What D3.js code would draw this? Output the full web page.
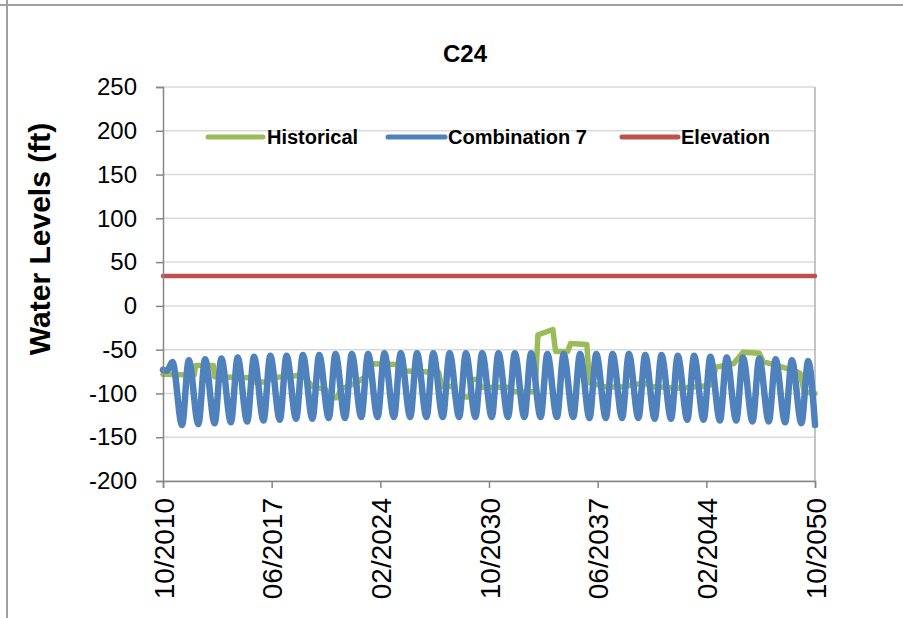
<!DOCTYPE html>
<html><head><meta charset="utf-8">
<script src="https://cdn.jsdelivr.net/npm/d3@7"></script>
<style>
body{margin:0;background:#fff;}
svg{display:block;font-family:"Liberation Sans",Arial,sans-serif;}
</style>
</head><body>
<svg id="c" width="903" height="618"></svg>
<script>
// ---------- data ----------
const chartTitle = "C24";
const yAxisTitle = "Water Levels (ft)";
const yTicks = [250, 200, 150, 100, 50, 0, -50, -100, -150, -200];
const xTickLabels = ["10/2010", "06/2017", "02/2024", "10/2030", "06/2037", "02/2044", "10/2050"];
const seriesNames = ["Historical", "Combination 7", "Elevation"];
const seriesColors = ["#9BBB59", "#4F81BD", "#C0504D"];

// Historical (vertices of the stepped line)
const histDates = ["2010-10","2012-09","2012-10","2013-11","2013-12","2016-03","2016-04","2017-03","2017-05",
  "2018-10","2019-05","2019-12","2020-10","2020-11","2021-06","2021-09","2022-08","2023-04","2023-08",
  "2025-03","2025-05","2027-09","2027-11","2028-08","2028-09","2029-08","2029-09","2030-02","2030-04",
  "2032-02","2032-03","2033-08","2033-10","2034-09","2034-11","2035-08","2035-10","2036-10","2036-12",
  "2037-10","2038-10","2040-04","2040-10","2042-04","2043-10","2044-06","2044-09","2045-10","2046-05",
  "2047-05","2047-08","2048-06","2048-10","2049-08","2049-11","2050-02","2050-10"];
const histValues = [-78,-79,-68,-68,-81,-82,-87,-87,-82,
  -80,-79,-92,-96,-105,-105,-95,-88,-80,-66,
  -67,-74,-76,-92,-92,-104,-104,-84,-84,-93,
  -93,-98,-98,-33,-27,-52,-52,-43,-44,-88,
  -92,-93,-88,-92,-94,-92,-90,-70,-66,-53,
  -54,-64,-68,-70,-75,-77,-98,-100];

// Combination 7 (seasonal cycle: start points, yearly May peaks, yearly December troughs, end point)
const combStartDates = ["2010-10", "2011-01"];
const combStartValues = [-73, -74];
const combPeakYears = d3.range(2011, 2051);
const combPeakValues = [-64,-62,-61,-60,-59,-58,-57,-57,-56,-56,
  -55,-55,-55,-54,-54,-54,-54,-54,-54,-54,
  -54,-54,-54,-55,-55,-55,-55,-55,-55,-56,
  -56,-57,-57,-58,-59,-59,-60,-61,-62,-63];
const combTroughYears = d3.range(2011, 2050);
const combTroughValues = [-136,-135,-134,-133,-132,-131,-130,-129,-129,-128,
  -128,-127,-127,-127,-127,-127,-127,-127,-127,-127,
  -127,-127,-127,-127,-127,-128,-128,-128,-128,-129,
  -129,-130,-130,-131,-131,-132,-132,-133,-134];
const combEndDate = "2050-10";
const combEndValue = -136;

// Elevation
const elevDates = ["2010-10", "2050-10"];
const elevValues = [34, 34];

// ---------- build ----------
const parseYM = d3.timeParse("%Y-%m");
const parseTick = d3.timeParse("%m/%Y");

const hist = histDates.map((d, i) => ({date: parseYM(d), value: histValues[i]}));
let comb = combStartDates.map((d, i) => ({date: parseYM(d), value: combStartValues[i]}));
combPeakYears.forEach((yr, i) => {
  comb.push({date: parseYM(yr + "-05"), value: combPeakValues[i]});
  if (i < combTroughYears.length) comb.push({date: parseYM(combTroughYears[i] + "-12"), value: combTroughValues[i]});
});
comb.push({date: parseYM(combEndDate), value: combEndValue});
const elev = elevDates.map((d, i) => ({date: parseYM(d), value: elevValues[i]}));

const L = 163, R = 815, T = 87, B = 481;
const svg = d3.select("#c");

const x = d3.scaleTime().domain([parseYM("2010-10"), parseYM("2050-10")]).range([L, R]);
const y = d3.scaleLinear().domain([-200, 250]).range([B, T]);

// outer frame remnants
svg.append("line").attr("x1", 0).attr("x2", 903).attr("y1", 5).attr("y2", 5)
  .attr("stroke", "#A0A0A0").attr("stroke-width", 2);
svg.append("line").attr("x1", 7).attr("x2", 7).attr("y1", 0).attr("y2", 618)
  .attr("stroke", "#A0A0A0").attr("stroke-width", 2);

// gridlines
svg.append("g").selectAll("line").data(yTicks).join("line")
  .attr("x1", L).attr("x2", R).attr("y1", d => y(d)).attr("y2", d => y(d))
  .attr("stroke", "#D9D9D9").attr("stroke-width", 1.5);
svg.append("line").attr("x1", R).attr("x2", R).attr("y1", T).attr("y2", B)
  .attr("stroke", "#B0B0B0").attr("stroke-width", 1.5);

// title
svg.append("text").attr("x", 465).attr("y", 62).attr("text-anchor", "middle")
  .attr("font-weight", "bold").attr("font-size", 24).text(chartTitle);

// y axis title
svg.append("text").attr("transform", "translate(39,239) rotate(-90)")
  .attr("text-anchor", "middle").attr("dy", "0.35em")
  .attr("font-weight", "bold").attr("font-size", 30).text(yAxisTitle);

// series lines
const line = d3.line().x(d => x(d.date)).y(d => y(d.value));
const smooth = d3.line().curve(d3.curveMonotoneX).x(d => x(d.date)).y(d => y(d.value));
const g = svg.append("g").attr("fill", "none").attr("stroke-linejoin", "round").attr("stroke-linecap", "round");
g.append("path").datum(hist).attr("d", line).attr("stroke", seriesColors[0]).attr("stroke-width", 5.5);
g.append("path").datum(comb).attr("d", smooth).attr("stroke", seriesColors[1]).attr("stroke-width", 6.5);
g.append("path").datum(elev).attr("d", line).attr("stroke", seriesColors[2]).attr("stroke-width", 4.5);

// y axis
const yAxis = svg.append("g").attr("transform", `translate(${L},0)`)
  .call(d3.axisLeft(y).tickValues(yTicks).tickSize(7).tickPadding(19).tickFormat(d3.format("d")));
yAxis.select(".domain").attr("stroke", "#868686").attr("stroke-width", 1.5);
yAxis.selectAll(".tick line").attr("stroke", "#868686").attr("stroke-width", 1.5);
yAxis.selectAll("text").attr("font-size", 24).attr("fill", "#000")
  .attr("font-family", '"Liberation Sans",Arial,sans-serif').text(d => d < 0 ? "-" + Math.abs(d) : d);

// x axis
const xTickDates = xTickLabels.map(parseTick);
const xAxis = svg.append("g").attr("transform", `translate(0,${B})`)
  .call(d3.axisBottom(x).tickValues(xTickDates).tickSize(7).tickFormat((d, i) => xTickLabels[i]));
xAxis.select(".domain").attr("stroke", "#868686").attr("stroke-width", 1.5);
xAxis.selectAll(".tick line").attr("stroke", "#868686").attr("stroke-width", 1.5);
xAxis.selectAll("text").attr("font-size", 28).attr("fill", "#000")
  .attr("font-family", '"Liberation Sans",Arial,sans-serif')
  .attr("transform", "rotate(-90)").attr("text-anchor", "end")
  .attr("x", -17).attr("y", 0).attr("dy", "0.36em");

// legend
const legendItems = [
  {x1: 208, x2: 263, tx: 267},
  {x1: 388, x2: 445, tx: 448},
  {x1: 622, x2: 678, tx: 681}
];
const lg = svg.append("g");
legendItems.forEach((it, i) => {
  lg.append("line").attr("x1", it.x1).attr("x2", it.x2).attr("y1", 137).attr("y2", 137)
    .attr("stroke", seriesColors[i]).attr("stroke-width", 5).attr("stroke-linecap", "round");
  lg.append("text").attr("x", it.tx).attr("y", 137).attr("dy", "0.36em")
    .attr("font-weight", "bold").attr("font-size", 20).text(seriesNames[i]);
});
</script>
</body></html>
